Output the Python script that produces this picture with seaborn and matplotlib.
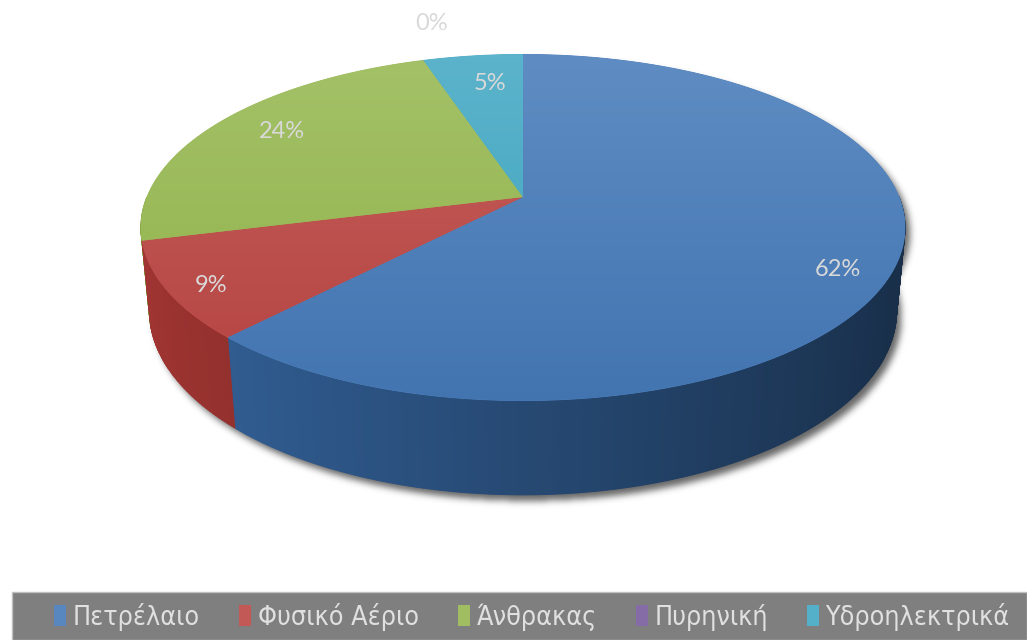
import numpy as np
import matplotlib
matplotlib.use("Agg")
import matplotlib.pyplot as plt
import seaborn as sns
import colorsys
from matplotlib.path import Path
from matplotlib.patches import Polygon, Rectangle, Patch
from matplotlib.colors import to_rgb

# Energy mix shares (%)
categories = ["Πετρέλαιο", "Φυσικό Αέριο", "Άνθρακας", "Πυρηνική", "Υδροηλεκτρικά"]
shares = [62, 9, 24, 0, 5]
palette_hex = ["#4F81BD", "#C0504D", "#9BBB59", "#8064A2", "#4BACC6"]

sns.set_theme(style="white")
plt.rcParams["font.family"] = ["DejaVu Sans"]
colors = [to_rgb(c) for c in sns.color_palette(palette_hex)]

W, H = 1027, 640
fig = plt.figure(figsize=(W / 100, H / 100), dpi=100)
ax = fig.add_axes([0, 0, 1, 1])
ax.axis("off")

# perspective camera for the 3D disc
CX, CY = 523.0, 197.0
TILT = np.arcsin(0.446)
DIST = 5.08
FOC = 1910.0
DEPTH = 0.25


def project(r, phi, z=0.0):
    X = r * np.cos(phi)
    Z = r * np.sin(phi)
    yc = Z * np.sin(TILT) + z * np.cos(TILT)
    zc = Z * np.cos(TILT) - z * np.sin(TILT) + DIST
    return CX + FOC * X / zc, CY - FOC * yc / zc


def lighten(c, amt):
    c = np.array(c)
    return c + (1 - c) * amt


def shift_lightness(c, dl):
    h, l, s = colorsys.rgb_to_hls(*c)
    return np.array(colorsys.hls_to_rgb(h, min(max(l + dl, 0), 1), s))


total = float(sum(shares))
edges = np.pi / 2 - 2 * np.pi * np.r_[0, np.cumsum(shares)] / total

# ---- soft drop shadow under the cylinder
full = np.linspace(0, 2 * np.pi, 721)
tx, ty = project(1, full, 0)
bx, by = project(1, full, -DEPTH)
front = np.linspace(-np.pi, 0, 361)
ftx, fty = project(1, front, 0)
fbx, fby = project(1, front, -DEPTH)
band = np.column_stack([np.r_[ftx, fbx[::-1]], np.r_[fty, fby[::-1]]])
yy, xx = np.mgrid[0:H, 0:W]
pts = np.column_stack([xx.ravel() + 0.5, yy.ravel() + 0.5])
mask = (Path(np.column_stack([tx, ty])).contains_points(pts)
        | Path(np.column_stack([bx, by])).contains_points(pts)
        | Path(band).contains_points(pts)).reshape(H, W).astype(float)
mask = np.roll(np.roll(mask, 6, axis=0), 5, axis=1)
sig = 3.5
k = np.exp(-0.5 * (np.arange(-12, 13) / sig) ** 2)
k /= k.sum()
mask = np.apply_along_axis(lambda r: np.convolve(r, k, mode="same"), 1, mask)
mask = np.apply_along_axis(lambda c: np.convolve(c, k, mode="same"), 0, mask)
shadow = np.zeros((H, W, 4))
shadow[..., 3] = mask * 0.6
ax.imshow(shadow, extent=(0, W, H, 0), origin="upper", zorder=1, interpolation="bilinear")

# ---- side wall, drawn far-to-near in thin strips with left-lit shading
step = np.deg2rad(0.5)
strips = []
phi = -np.pi
while phi < 0:
    p0, p1 = phi, min(phi + step, 0.0)
    mid = 0.5 * (p0 + p1)
    idx = None
    for i in range(len(shares)):
        hi, lo = edges[i], edges[i + 1]
        m = mid
        while m > hi:
            m -= 2 * np.pi
        while m < lo:
            m += 2 * np.pi
        if lo <= m <= hi and shares[i] > 0:
            idx = i
            break
    strips.append((np.sin(mid), p0, p1, mid, idx))
    phi += step
strips.sort(key=lambda s: -s[0])
for _, p0, p1, mid, idx in strips:
    seg = np.array([p0, p1])
    sx0, sy0 = project(1, seg, 0)
    sx1, sy1 = project(1, seg, -DEPTH)
    shade = 0.53 + 0.2 * (-np.cos(mid))
    h, l, s = colorsys.rgb_to_hls(*colors[idx])
    col = np.array(colorsys.hls_to_rgb(h, l * shade * 1.08, min(s * 1.1, 1)))
    col = np.clip(col, 0, 1)
    ax.add_patch(Polygon(np.column_stack([np.r_[sx0, sx1[::-1]], np.r_[sy0, sy1[::-1]]]),
                         closed=True, fc=col, ec=col, lw=0.8, zorder=2))

# ---- top face wedges with a soft vertical gradient
ytop, ybot = ty.min(), ty.max()
t = np.linspace(0, 1, 256)[:, None, None]
for i, v in enumerate(shares):
    if v <= 0:
        continue
    arc = np.linspace(edges[i], edges[i + 1], 200)
    ax_, ay_ = project(1, arc, 0)
    poly = Polygon(np.column_stack([np.r_[CX, ax_], np.r_[CY, ay_]]), closed=True,
                   fc=colors[i], ec=colors[i], lw=0.6, zorder=3)
    ax.add_patch(poly)
    c_top = lighten(colors[i], 0.09)
    c_bot = shift_lightness(colors[i], -0.05)
    img = np.clip(c_top[None, None, :] * (1 - t) + c_bot[None, None, :] * t, 0, 1)
    im = ax.imshow(img, extent=(tx.min() - 2, tx.max() + 2, ybot + 2, ytop - 2),
                   origin="upper", aspect="auto", interpolation="bilinear", zorder=4)
    im.set_clip_path(poly)

# ---- percentage labels
label_r = [0.85, 0.85, 0.85, 1.15, 0.85]
nudge = [(0, 17), (-14, 10), (20, -1), (21, -20), (11, 9)]
for i, v in enumerate(shares):
    mid = 0.5 * (edges[i] + edges[i + 1])
    lx, ly = project(label_r[i], mid, 0)
    ax.text(lx + nudge[i][0], ly + nudge[i][1], f"{v}%", ha="center", va="center",
            fontsize=17, color="#D9D9D9", family=["Lato", "DejaVu Sans"], zorder=6)

ax.set_xlim(0, W)
ax.set_ylim(H, 0)

# ---- legend band
ax.add_patch(Rectangle((12, 592), W - 12, 48, fc="#7F7F7F", ec="#BFBFBF", lw=1, zorder=5))
handles = [Patch(facecolor=lighten(c, 0.05), edgecolor="none") for c in colors]
fig.legend(handles, categories, loc="center", bbox_to_anchor=(532 / W, 1 - 617 / H),
           ncol=5, frameon=False, labelcolor="#E0E0E0",
           prop=dict(family="DejaVu Sans", stretch="condensed", size=19.3),
           handlelength=0.45, handleheight=0.8, handletextpad=0.25, columnspacing=1.45)

fig.savefig("out.png", dpi=100, facecolor="white")
